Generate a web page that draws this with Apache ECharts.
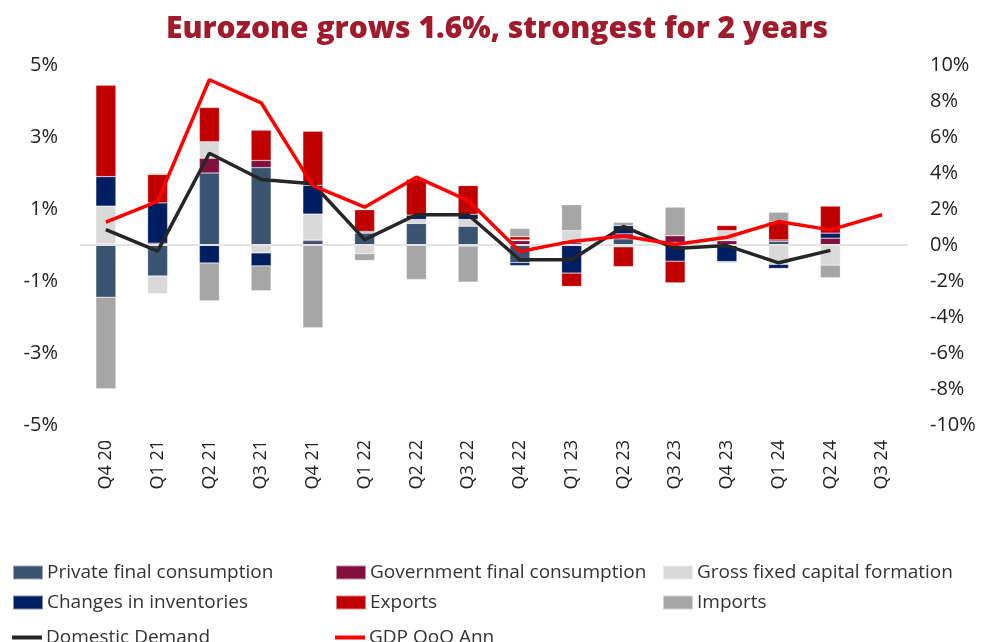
<!DOCTYPE html>
<html>
<head>
<meta charset="utf-8">
<script src="https://cdn.jsdelivr.net/npm/echarts@6/dist/echarts.min.js"></script>
<style>
  html, body { margin: 0; padding: 0; background: #fff; }
  #chart { width: 994px; height: 642px; }
</style>
</head>
<body>
<div id="chart"></div>
<script>
const categories = ['Q4 20', 'Q1 21', 'Q2 21', 'Q3 21', 'Q4 21', 'Q1 22', 'Q2 22', 'Q3 22',
  'Q4 22', 'Q1 23', 'Q2 23', 'Q3 23', 'Q4 23', 'Q1 24', 'Q2 24', 'Q3 24']

// contributions, percentage points (left axis)
const privateCons = [-1.45, -0.86, 2.0, 2.15, 0.12, 0.33, 0.6, 0.52, -0.49, 0.07, 0.17, 0.07, 0, 0.1, 0, null]
const govCons = [0.03, 0.05, 0.41, 0.2, 0.03, 0.02, 0, -0.03, 0.12, 0.05, 0.14, 0.19, 0.12, 0.04, 0.19, null]
const gfcf = [1.05, -0.49, 0.46, -0.22, 0.71, -0.24, 0.11, 0.19, 0.02, 0.28, -0.05, 0, 0.28, -0.54, -0.56, null]
const inventories = [0.82, 1.12, -0.5, -0.36, 0.8, 0.03, 0.12, 0.14, -0.08, -0.78, 0.23, -0.45, -0.46, -0.11, 0.14, null]
const exportsC = [2.54, 0.79, 0.95, 0.84, 1.5, 0.6, 1.0, 0.8, 0.09, -0.37, -0.55, -0.6, 0.14, 0.51, 0.75, null]
const importsC = [-2.54, 0.03, -1.05, -0.69, -2.3, -0.19, -0.96, -1.0, 0.23, 0.72, 0.09, 0.79, -0.03, 0.26, -0.35, null]

// right axis, %
const domesticDemand = [0.85, -0.34, 5.1, 3.64, 3.4, 0.3, 1.68, 1.68, -0.82, -0.82, 1.03, -0.2, -0.03, -0.99, -0.3, null]
const gdpQoqAnn = [1.27, 2.43, 9.18, 7.9, 3.3, 2.1, 3.77, 2.47, -0.36, 0.2, 0.5, 0.03, 0.43, 1.3, 0.84, 1.68]

const leftTicks = [-5, -3, -1, 1, 3, 5]

const barSeries = [
  { name: 'Private final consumption', data: privateCons, color: '#3a5370' },
  { name: 'Government final consumption', data: govCons, color: '#82103f' },
  { name: 'Gross fixed capital formation', data: gfcf, color: '#d9d9d9' },
  { name: 'Changes in inventories', data: inventories, color: '#001e62' },
  { name: 'Exports', data: exportsC, color: '#c00000' },
  { name: 'Imports', data: importsC, color: '#a6a6a6' },
]

// legend layout: [name, left, row, isLine]
const legendSlots = [
  ['Private final consumption', 12, 0, false],
  ['Government final consumption', 335, 0, false],
  ['Gross fixed capital formation', 662, 0, false],
  ['Changes in inventories', 12, 1, false],
  ['Exports', 335, 1, false],
  ['Imports', 662, 1, false],
  ['Domestic Demand', 12, 2, true],
  ['GDP QoQ Ann', 335, 2, true],
]

const font = 'Open Sans'
const chart = echarts.init(document.getElementById('chart'))

chart.setOption({
  animation: false,
  title: {
    text: 'Eurozone grows 1.6%, strongest for 2 years',
    left: 'center',
    top: 9,
    textStyle: { fontFamily: font, fontWeight: 800, fontSize: 30, color: '#a01c2c' },
  },
  legend: legendSlots.map(([name, left, row, isLine]) => ({
    left: left,
    top: 570 + row * 30 - (isLine ? 2 : 7),
    padding: 0,
    icon: 'rect',
    itemWidth: 30,
    itemHeight: isLine ? 4 : 14,
    selectedMode: false,
    data: [name],
    textStyle: { fontSize: 19, color: '#333', fontFamily: font, padding: [0, 0, 0, -1] },
  })),
  grid: { left: 80, right: 86, top: 65, bottom: 217 },
  xAxis: {
    type: 'category',
    data: categories,
    axisLine: { show: false },
    axisTick: { show: false },
    axisLabel: { rotate: 90, margin: 15, fontSize: 18, color: '#222', fontFamily: font },
  },
  yAxis: [
    {
      type: 'value',
      min: -5,
      max: 5,
      interval: 1,
      splitLine: { show: false },
      axisLine: { show: false },
      axisTick: { show: false },
      axisLabel: {
        margin: 22,
        fontSize: 20,
        color: '#222',
        fontFamily: font,
        formatter: v => (leftTicks.includes(v) ? v + '%' : ''),
      },
    },
    {
      type: 'value',
      min: -10,
      max: 10,
      interval: 2,
      splitLine: { show: false },
      axisLine: { show: false },
      axisTick: { show: false },
      axisLabel: { margin: 22, fontSize: 20, color: '#222', fontFamily: font, formatter: '{value}%' },
    },
  ],
  series: [
    ...barSeries.map((s, i) => ({
      name: s.name,
      type: 'bar',
      stack: 'contrib',
      yAxisIndex: 0,
      barWidth: 20,
      data: s.data,
      itemStyle: { color: s.color, borderColor: 'rgba(255,255,255,0.5)', borderWidth: 0.5 },
      markLine: i === 0 ? {
        silent: true,
        symbol: 'none',
        label: { show: false },
        lineStyle: { color: '#e3e3e3', width: 2, type: 'solid' },
        data: [{ yAxis: 0 }],
      } : undefined,
    })),
    {
      name: 'Domestic Demand',
      type: 'line',
      yAxisIndex: 1,
      data: domesticDemand,
      symbol: 'none',
      lineStyle: { color: '#262626', width: 3.5 },
      itemStyle: { color: '#262626' },
      z: 5,
    },
    {
      name: 'GDP QoQ Ann',
      type: 'line',
      yAxisIndex: 1,
      data: gdpQoqAnn,
      symbol: 'none',
      lineStyle: { color: '#ff0000', width: 3.5 },
      itemStyle: { color: '#ff0000' },
      z: 6,
    },
  ],
})
</script>
</body>
</html>
